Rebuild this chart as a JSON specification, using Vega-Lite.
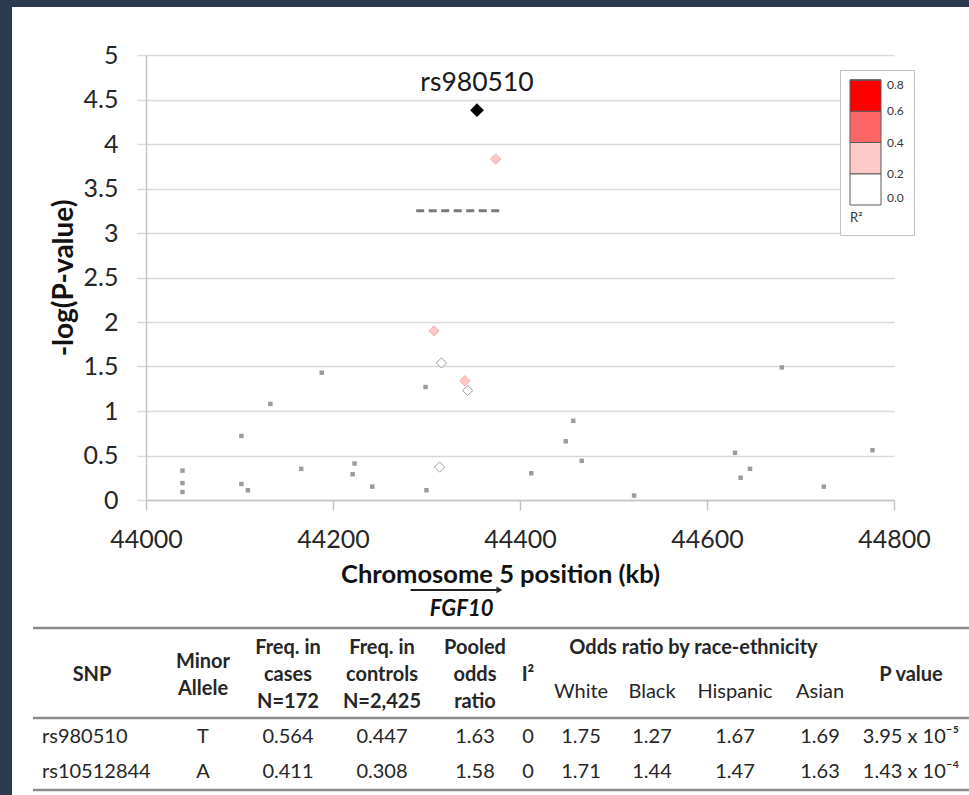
{
  "$schema": "https://vega.github.io/schema/vega-lite/v6.json",
  "width": 957,
  "height": 788,
  "autosize": {"type": "none"},
  "padding": {"left": 12, "top": 7, "right": 0, "bottom": 0},
  "background": "#2c3a4f",
  "view": {"fill": "#ffffff", "stroke": null},
  "config": {
    "font": "Lato",
    "view": {"fill": "#ffffff", "stroke": null},
    "axis": {"labelFont": "Lato", "titleFont": "Lato"},
    "legend": {"labelFont": "Lato", "titleFont": "Lato"},
    "text": {"font": "Lato"}
  },
  "datasets": {
    "gray": [
      {"kb": 44039, "logp": 0.33},
      {"kb": 44039, "logp": 0.19},
      {"kb": 44039, "logp": 0.09},
      {"kb": 44102, "logp": 0.72},
      {"kb": 44102, "logp": 0.18},
      {"kb": 44109, "logp": 0.11},
      {"kb": 44133, "logp": 1.08},
      {"kb": 44166, "logp": 0.35},
      {"kb": 44188, "logp": 1.43},
      {"kb": 44221, "logp": 0.29},
      {"kb": 44223, "logp": 0.41},
      {"kb": 44242, "logp": 0.15},
      {"kb": 44299, "logp": 1.27},
      {"kb": 44300, "logp": 0.11},
      {"kb": 44412, "logp": 0.30},
      {"kb": 44449, "logp": 0.66},
      {"kb": 44457, "logp": 0.89},
      {"kb": 44466, "logp": 0.44},
      {"kb": 44522, "logp": 0.05},
      {"kb": 44630, "logp": 0.53},
      {"kb": 44636, "logp": 0.25},
      {"kb": 44646, "logp": 0.35},
      {"kb": 44680, "logp": 1.49},
      {"kb": 44725, "logp": 0.15},
      {"kb": 44777, "logp": 0.56}
    ],
    "ld": [
      {"kb": 44374, "logp": 3.83, "r2": 0.3},
      {"kb": 44308, "logp": 1.90, "r2": 0.3},
      {"kb": 44316, "logp": 1.54, "r2": 0.1},
      {"kb": 44341, "logp": 1.34, "r2": 0.3},
      {"kb": 44344, "logp": 1.23, "r2": 0.1},
      {"kb": 44314, "logp": 0.37, "r2": 0.1}
    ],
    "lead": [{"snp": "rs980510", "kb": 44354, "logp": 4.38}],
    "threshold": [{"start": 44289, "end": 44381, "logp": 3.25}],
    "gene": [{"gene": "FGF10", "start": 44283, "end": 44378}],
    "table_rules": [{"line": 0}, {"line": 5}, {"line": 8}],
    "table": [
      {"part": "header", "col": 1, "row": 3, "text": "SNP"},
      {"part": "header", "col": 2, "row": 2, "text": "Minor\nAllele"},
      {"part": "header", "col": 3, "row": 1, "text": "Freq. in\ncases\nN=172"},
      {"part": "header", "col": 4, "row": 1, "text": "Freq. in\ncontrols\nN=2,425"},
      {"part": "header", "col": 5, "row": 1, "text": "Pooled\nodds\nratio"},
      {"part": "header", "col": 6, "row": 3, "text": "I²"},
      {"part": "header", "col": 8.5, "row": 1, "text": "Odds ratio by race-ethnicity"},
      {"part": "header", "col": 11, "row": 3, "text": "P value"},
      {"part": "sub", "col": 7, "row": 4, "text": "White"},
      {"part": "sub", "col": 8, "row": 4, "text": "Black"},
      {"part": "sub", "col": 9, "row": 4, "text": "Hispanic"},
      {"part": "sub", "col": 10, "row": 4, "text": "Asian"},
      {"part": "body", "col": 1, "row": 6, "text": "rs980510"},
      {"part": "body", "col": 2, "row": 6, "text": "T"},
      {"part": "body", "col": 3, "row": 6, "text": "0.564"},
      {"part": "body", "col": 4, "row": 6, "text": "0.447"},
      {"part": "body", "col": 5, "row": 6, "text": "1.63"},
      {"part": "body", "col": 6, "row": 6, "text": "0"},
      {"part": "body", "col": 7, "row": 6, "text": "1.75"},
      {"part": "body", "col": 8, "row": 6, "text": "1.27"},
      {"part": "body", "col": 9, "row": 6, "text": "1.67"},
      {"part": "body", "col": 10, "row": 6, "text": "1.69"},
      {"part": "body", "col": 11, "row": 6, "text": "3.95 x 10⁻⁵"},
      {"part": "body", "col": 1, "row": 7, "text": "rs10512844"},
      {"part": "body", "col": 2, "row": 7, "text": "A"},
      {"part": "body", "col": 3, "row": 7, "text": "0.411"},
      {"part": "body", "col": 4, "row": 7, "text": "0.308"},
      {"part": "body", "col": 5, "row": 7, "text": "1.58"},
      {"part": "body", "col": 6, "row": 7, "text": "0"},
      {"part": "body", "col": 7, "row": 7, "text": "1.71"},
      {"part": "body", "col": 8, "row": 7, "text": "1.44"},
      {"part": "body", "col": 9, "row": 7, "text": "1.47"},
      {"part": "body", "col": 10, "row": 7, "text": "1.63"},
      {"part": "body", "col": 11, "row": 7, "text": "1.43 x 10⁻⁴"}
    ]
  },
  "layer": [
    {
      "layer": [
        {
          "data": {"name": "gray"},
          "mark": {"type": "point", "shape": "square", "filled": true, "size": 20, "color": "#9c9c9c", "opacity": 1},
          "encoding": {
            "x": {
              "field": "kb", "type": "quantitative",
              "scale": {"domain": [44000, 44800], "range": [134, 882], "nice": false, "zero": false},
              "axis": {
                "values": [44000, 44200, 44400, 44600, 44800],
                "format": "d",
                "offset": -295,
                "grid": false,
                "labelFlush": false,
                "domainColor": "#c4c4c4", "domainWidth": 1.5,
                "tickColor": "#c4c4c4", "tickWidth": 1.5, "tickSize": 10,
                "labelFontSize": 25, "labelColor": "#262626", "labelPadding": 17,
                "title": "Chromosome 5 position (kb)",
                "titleFontSize": 25.5, "titleFontWeight": "bold", "titleColor": "#111111",
                "titleX": 488, "titleY": 62, "titleBaseline": "top", "titleAlign": "center"
              }
            },
            "y": {
              "field": "logp", "type": "quantitative",
              "scale": {"domain": [0, 5], "range": [493, 48], "nice": false, "zero": false},
              "axis": {
                "values": [0, 0.5, 1, 1.5, 2, 2.5, 3, 3.5, 4, 4.5, 5],
                "format": "~g",
                "offset": -134,
                "grid": true, "gridColor": "#d9d9d9", "gridWidth": 1.5,
                "domainColor": "#c4c4c4", "domainWidth": 1.5,
                "tickColor": "#d9d9d9", "tickWidth": 1.5, "tickSize": 9,
                "labelFontSize": 25, "labelColor": "#262626", "labelPadding": 19,
                "title": "-log(P-value)",
                "titleFontSize": 28, "titleFontWeight": "bold", "titleColor": "#111111",
                "titlePadding": 5
              }
            }
          }
        },
        {
          "data": {"name": "threshold"},
          "mark": {"type": "rule", "strokeDash": [8, 4.5], "strokeWidth": 3, "color": "#7a7a7a"},
          "encoding": {
            "x": {"field": "start", "type": "quantitative"},
            "x2": {"field": "end"},
            "y": {"field": "logp", "type": "quantitative"}
          }
        },
        {
          "data": {"name": "ld"},
          "mark": {"type": "point", "shape": "diamond", "filled": true, "size": 105, "strokeWidth": 1, "opacity": 1},
          "encoding": {
            "x": {"field": "kb", "type": "quantitative"},
            "y": {"field": "logp", "type": "quantitative"},
            "fill": {
              "field": "r2", "type": "quantitative",
              "scale": {"type": "quantize", "domain": [0, 0.8], "range": ["#ffffff", "#ffc9c9", "#ff6666", "#ff0000"]},
              "legend": {
                "type": "gradient",
                "orient": "none", "legendX": 828, "legendY": 63,
                "direction": "vertical",
                "values": [0, 0, 0.2, 0.4, 0.6000000000000001, 0.8],
                "gradientLength": 125, "gradientThickness": 31,
                "gradientStrokeColor": "#5a5a5a", "gradientStrokeWidth": 1,
                "labelFontSize": 12, "labelColor": "#333333", "format": ".1f", "labelOverlap": false, "labelOffset": 6,
                "title": "R²", "titleOrient": "bottom", "titleAnchor": "start",
                "titleFontSize": 13, "titleFontWeight": "normal", "titleColor": "#333333", "titlePadding": 6,
                "padding": 10, "fillColor": "#ffffff", "strokeColor": "#bfbfbf", "cornerRadius": 0
              }
            },
            "stroke": {
              "field": "r2", "type": "quantitative",
              "scale": {"type": "quantize", "domain": [0, 0.8], "range": ["#a0a0a0", "#eeaaaa", "#e05050", "#cc0000"]},
              "legend": null
            }
          }
        },
        {
          "data": {"name": "lead"},
          "mark": {"type": "point", "shape": "diamond", "filled": true, "size": 190, "color": "#000000", "opacity": 1},
          "encoding": {
            "x": {"field": "kb", "type": "quantitative"},
            "y": {"field": "logp", "type": "quantitative"}
          }
        },
        {
          "data": {"name": "lead"},
          "mark": {"type": "text", "dy": -27, "fontSize": 26.5, "color": "#1a1a1a", "baseline": "middle"},
          "encoding": {
            "x": {"field": "kb", "type": "quantitative"},
            "y": {"field": "logp", "type": "quantitative"},
            "text": {"field": "snp", "type": "nominal"}
          }
        },
        {
          "data": {"name": "gene"},
          "mark": {"type": "rule", "strokeWidth": 2, "color": "#222222"},
          "encoding": {
            "x": {"field": "start", "type": "quantitative"},
            "x2": {"field": "end"},
            "y": {"datum": -1.01, "type": "quantitative"}
          }
        },
        {
          "data": {"name": "gene"},
          "mark": {"type": "point", "shape": "triangle-right", "filled": true, "size": 45, "color": "#222222", "opacity": 1},
          "encoding": {
            "x": {"field": "end", "type": "quantitative"},
            "y": {"datum": -1.01, "type": "quantitative"}
          }
        },
        {
          "data": {"name": "gene"},
          "mark": {"type": "text", "align": "right", "dx": -6, "baseline": "middle", "fontSize": 22, "fontWeight": "bold", "fontStyle": "italic", "color": "#111111"},
          "encoding": {
            "x": {"field": "end", "type": "quantitative"},
            "y": {"datum": -1.22, "type": "quantitative"},
            "text": {"field": "gene", "type": "nominal"}
          }
        }
      ]
    },
    {
      "layer": [
        {
          "data": {"name": "table_rules"},
          "mark": {"type": "rule", "strokeWidth": 2.5, "color": "#8a8a8a"},
          "encoding": {
            "x": {
              "datum": 0, "type": "quantitative",
              "scale": {"domain": [0, 1, 2, 3, 4, 5, 6, 7, 8, 9, 10, 11, 12], "range": [21, 80, 191, 276, 370, 463, 516, 569, 640, 723, 808, 899, 957], "nice": false, "zero": false},
              "axis": null
            },
            "x2": {"datum": 12},
            "y": {
              "field": "line", "type": "quantitative",
              "scale": {"domain": [0, 1, 2, 3, 4, 5, 6, 7, 8], "range": [621, 641, 655, 668, 685, 711, 730, 765, 783], "nice": false, "zero": false},
              "axis": null
            }
          }
        },
        {
          "data": {"name": "table"},
          "transform": [{"filter": "datum.part === 'header'"}],
          "mark": {"type": "text", "fontSize": 20, "fontWeight": "bold", "lineBreak": "\n", "lineHeight": 27, "baseline": "middle", "align": "center", "color": "#262626"},
          "encoding": {
            "x": {"field": "col", "type": "quantitative", "axis": null},
            "y": {"field": "row", "type": "quantitative", "axis": null},
            "text": {"field": "text", "type": "nominal"}
          }
        },
        {
          "data": {"name": "table"},
          "transform": [{"filter": "datum.part === 'sub'"}],
          "mark": {"type": "text", "fontSize": 20, "baseline": "middle", "align": "center", "color": "#262626"},
          "encoding": {
            "x": {"field": "col", "type": "quantitative", "axis": null},
            "y": {"field": "row", "type": "quantitative", "axis": null},
            "text": {"field": "text", "type": "nominal"}
          }
        },
        {
          "data": {"name": "table"},
          "transform": [{"filter": "datum.part === 'body' && datum.col !== 1"}],
          "mark": {"type": "text", "fontSize": 20, "baseline": "middle", "align": "center", "color": "#262626"},
          "encoding": {
            "x": {"field": "col", "type": "quantitative", "axis": null},
            "y": {"field": "row", "type": "quantitative", "axis": null},
            "text": {"field": "text", "type": "nominal"}
          }
        },
        {
          "data": {"name": "table"},
          "transform": [{"filter": "datum.part === 'body' && datum.col === 1"}],
          "mark": {"type": "text", "fontSize": 20, "baseline": "middle", "align": "left", "dx": -50, "color": "#262626"},
          "encoding": {
            "x": {"field": "col", "type": "quantitative", "axis": null},
            "y": {"field": "row", "type": "quantitative", "axis": null},
            "text": {"field": "text", "type": "nominal"}
          }
        }
      ]
    }
  ],
  "resolve": {
    "scale": {"x": "independent", "y": "independent"},
    "axis": {"x": "independent", "y": "independent"}
  }
}
